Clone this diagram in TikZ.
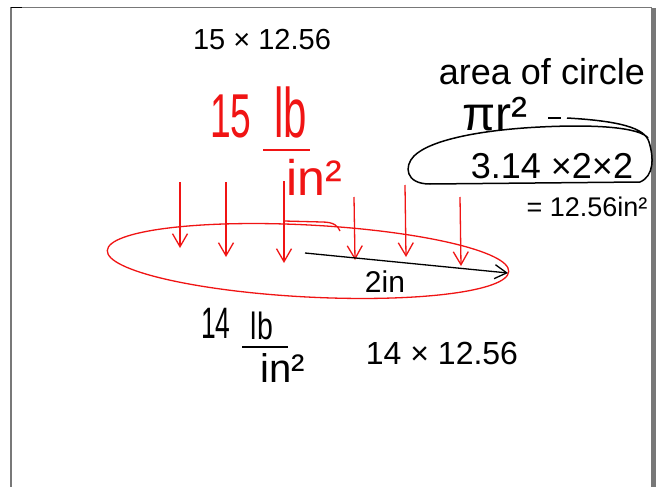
\documentclass[tikz,border=0pt]{standalone}
\usepackage{fontspec}
\setmainfont{Liberation Sans}
\usetikzlibrary{arrows.meta}
\definecolor{inkred}{RGB}{240,20,20}
\definecolor{framegray}{RGB}{120,120,120}
\tikzset{
  ink/.style={inner sep=0pt, outer sep=0pt, text=black},
  redink/.style={inner sep=0pt, outer sep=0pt, text=inkred},
  force/.style={draw=inkred, line width=1.3pt, -{Straight Barb[length=13pt,width=15pt,line width=1.3pt]}},
  radius arrow/.style={draw=black, line width=1.3pt, -{Straight Barb[length=12pt,width=14pt,line width=1.3pt]}},
  fracline/.style={line width=1.3pt},
}
\newcommand{\hw}[2]{\scalebox{#1}[1]{#2}}
\begin{document}
\begin{tikzpicture}[x=1pt,y=-1pt]
\useasboundingbox (0,0) rectangle (661,487);
\fill[white] (0,0) rectangle (661,487);
% frame
\draw[framegray, line width=1.5pt] (11,487) -- (11,7.5) -- (652,7.5);
\draw[black, line width=1.5pt] (11,7.5) -- (22,7.5);
\fill[framegray] (651,8) rectangle (656,487);

% top text
\node[ink, font=\fontsize{29}{31}\selectfont] (topcalc) at (262,40) {15 × 12.56};

% red pressure
\node[redink, font=\fontsize{62}{64}\selectfont] (rfifteen) at (231,116) {\hw{0.6}{15}};
\node[redink, font=\fontsize{70}{72}\selectfont] (rlb) at (291,112) {\hw{0.6}{lb}};
\coordinate (rfl) at (263,150);
\coordinate (rfr) at (310,150);
\draw[inkred, fracline] (rfl) -- (rfr);
\node[redink, font=\fontsize{50}{52}\selectfont] (rin) at (314,177) {in²};

% red ellipse (disk)
\coordinate (disk) at (308,261);
\draw[inkred, line width=1.3pt, rotate around={-3:(disk)}] (disk) ellipse [x radius=201, y radius=36];

% red force arrows
\coordinate (a1s) at (180,182); \coordinate (a1e) at (180,248);
\coordinate (a2s) at (226,182); \coordinate (a2e) at (226,257);
\coordinate (a3s) at (284,181); \coordinate (a3e) at (284,263);
\coordinate (a4s) at (354,197); \coordinate (a4e) at (355,260);
\coordinate (a5s) at (405,185); \coordinate (a5e) at (406,257);
\coordinate (a6s) at (460,197); \coordinate (a6e) at (461,266);
\draw[force] (a1s) -- (a1e);
\draw[force] (a2s) -- (a2e);
\draw[force] (a3s) -- (a3e);
\draw[force] (a4s) -- (a4e);
\draw[force] (a5s) -- (a5e);
\draw[force] (a6s) -- (a6e);
\coordinate (hs) at (284,221);
\coordinate (he) at (340,231);
\draw[inkred, line width=1.3pt] (hs) -- (322,222) .. controls (334,222) and (338,226) .. (he);

% radius arrow
\coordinate (rs) at (305,253);
\coordinate (re) at (508,273);
\draw[radius arrow] (rs) -- (re);
\node[ink, font=\fontsize{30}{32}\selectfont] (twoin) at (385,282) {2in};

% black 14 lb/in^2
\node[ink, font=\fontsize{44}{46}\selectfont] (bfourteen) at (216,323) {\hw{0.6}{14}};
\node[ink, font=\fontsize{38}{40}\selectfont] (blb) at (262,326) {\hw{0.75}{lb}};
\coordinate (bfl) at (242,347);
\coordinate (bfr) at (288,347);
\draw[black, fracline] (bfl) -- (bfr);
\node[ink, font=\fontsize{40}{42}\selectfont] (bin) at (283,368) {in²};
\node[ink, font=\fontsize{32}{34}\selectfont] (botcalc) at (442,353) {14 × 12.56};

% area of circle
\node[ink, font=\fontsize{36}{38}\selectfont] (area) at (542,72) {area of circle};
\node[ink, font=\fontsize{48}{50}\selectfont] (pir) at (495,114) {πr²};
\coordinate (ds) at (548,118);
\coordinate (de) at (561,118);
\draw[black, line width=1.3pt] (ds) -- (de);
\coordinate (loopstart) at (567,118);
\draw[black, line width=1.5pt] (loopstart) .. controls (620,121) and (645,128) .. (649,142)
  .. controls (654,158) and (654,176) .. (640,182)
  -- (430,184)
  .. controls (405,184) and (404,166) .. (414,156)
  .. controls (430,140) and (480,130) .. (540,127)
  .. controls (600,124) and (640,128) .. (648,138);
\node[ink, font=\fontsize{36}{38}\selectfont] (calc) at (552,166) {3.14 ×2×2};
\node[ink, font=\fontsize{27}{29}\selectfont] (result) at (587,207) {= 12.56in²};
\end{tikzpicture}
\end{document}
